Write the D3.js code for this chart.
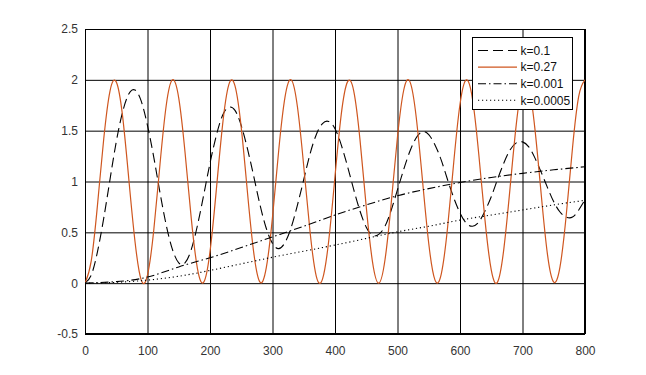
<!DOCTYPE html>
<html>
<head>
<meta charset="utf-8">
<script src="https://cdn.jsdelivr.net/npm/d3@7"></script>
<style>
  body { margin: 0; background: #fff; }
  text { font-family: "Liberation Sans", Arial, sans-serif; }
</style>
</head>
<body>
<div id="chart"></div>
<script>
// sample positions (x) for the fast series, every 10
var xFast = [0, 10, 20, 30, 40, 50, 60, 70, 80, 90,
  100, 110, 120, 130, 140, 150, 160, 170, 180, 190,
  200, 210, 220, 230, 240, 250, 260, 270, 280, 290,
  300, 310, 320, 330, 340, 350, 360, 370, 380, 390,
  400, 410, 420, 430, 440, 450, 460, 470, 480, 490,
  500, 510, 520, 530, 540, 550, 560, 570, 580, 590,
  600, 610, 620, 630, 640, 650, 660, 670, 680, 690,
  700, 710, 720, 730, 740, 750, 760, 770, 780, 790, 800];

// sample positions for the slow series, every 50
var xSlow = [0, 50, 100, 150, 200, 250, 300, 350, 400, 450, 500, 550, 600, 650, 700, 750, 800];

var k01 = [0, 0.08, 0.31, 0.64, 1.02, 1.39, 1.68, 1.86, 1.90, 1.79,
  1.55, 1.24, 0.89, 0.57, 0.33, 0.20, 0.20, 0.33, 0.57, 0.87,
  1.18, 1.45, 1.65, 1.73, 1.70, 1.55, 1.32, 1.05, 0.77, 0.54,
  0.39, 0.34, 0.40, 0.55, 0.77, 1.02, 1.27, 1.46, 1.57, 1.59,
  1.52, 1.36, 1.15, 0.92, 0.71, 0.55, 0.47, 0.48, 0.56, 0.72,
  0.92, 1.12, 1.30, 1.43, 1.49, 1.46, 1.36, 1.21, 1.02, 0.84,
  0.69, 0.59, 0.56, 0.60, 0.71, 0.85, 1.02, 1.18, 1.31, 1.38,
  1.39, 1.34, 1.23, 1.09, 0.94, 0.80, 0.70, 0.65, 0.65, 0.72, 0.82];

var k027 = [0, 0.22, 0.77, 1.42, 1.89, 1.98, 1.65, 1.03, 0.41, 0.03,
  0.08, 0.52, 1.17, 1.75, 2.00, 1.82, 1.29, 0.64, 0.14, 0.01,
  0.31, 0.91, 1.55, 1.95, 1.94, 1.53, 0.89, 0.30, 0.01, 0.15,
  0.65, 1.31, 1.83, 2.00, 1.73, 1.15, 0.51, 0.07, 0.04, 0.42,
  1.05, 1.66, 1.98, 1.89, 1.41, 0.75, 0.21, 0.00, 0.23, 0.79,
  1.44, 1.90, 1.98, 1.63, 1.01, 0.39, 0.03, 0.09, 0.54, 1.19,
  1.76, 2.00, 1.81, 1.27, 0.62, 0.13, 0.01, 0.33, 0.93, 1.56,
  1.95, 1.93, 1.51, 0.87, 0.28, 0.01, 0.16, 0.67, 1.33, 1.84, 2.00];

var k0001 = [0, 0.015, 0.06, 0.16, 0.25, 0.35, 0.455, 0.56, 0.67, 0.77, 0.86, 0.93, 0.99, 1.04, 1.08, 1.115, 1.145];

var k00005 = [0, 0.008, 0.03, 0.068, 0.125, 0.19, 0.255, 0.315, 0.375, 0.44, 0.505, 0.56, 0.62, 0.67, 0.72, 0.77, 0.815];

var legendLabels = ["k=0.1", "k=0.27", "k=0.001", "k=0.0005"];
var xTicks = [0, 100, 200, 300, 400, 500, 600, 700, 800];
var yTicks = [-0.5, 0, 0.5, 1, 1.5, 2, 2.5];

var width = 646,
height = 375;

var plotLeft = 85, plotRight = 585, plotTop = 29, plotBottom = 334;

var svg = d3.select("#chart")
.append("svg")
.attr("width", width)
.attr("height", height);

var xScale = d3.scaleLinear()
.domain([0, 800])
.range([plotLeft, plotRight]);

var yScale = d3.scaleLinear()
.domain([-0.5, 2.5])
.range([plotBottom, plotTop]);

//y grid + labels
var yAxis = d3.axisLeft(yScale)
.tickValues(yTicks)
.tickFormat(function(d) { return String(d); })
.tickSize(-(plotRight - plotLeft))
.tickPadding(7);

svg.append("g")
.attr("class", "y axis")
.attr("transform", "translate(" + plotLeft + ",0)")
.call(yAxis);

//x grid + labels
var xAxis = d3.axisBottom(xScale)
.tickValues(xTicks)
.tickFormat(function(d) { return String(d); })
.tickSize(-(plotBottom - plotTop))
.tickPadding(12);

svg.append("g")
.attr("class", "x axis")
.attr("transform", "translate(0," + plotBottom + ")")
.call(xAxis);

svg.selectAll(".axis .domain").remove();
svg.selectAll(".axis line")
.attr("stroke", "#000")
.attr("stroke-width", 1);
svg.selectAll(".axis text")
.attr("fill", "#333")
.style("font-size", "12px");

//plot frame
svg.append("rect")
.attr("x", plotLeft + 0.5)
.attr("y", plotTop + 0.5)
.attr("width", plotRight - plotLeft - 1)
.attr("height", plotBottom - plotTop - 1)
.attr("fill", "none")
.attr("stroke", "#000");

svg.append("clipPath")
.attr("id", "plotclip")
.append("rect")
.attr("x", plotLeft)
.attr("y", plotTop)
.attr("width", plotRight - plotLeft)
.attr("height", plotBottom - plotTop);

var line = d3.line()
.curve(d3.curveNatural)
.x(function(d) { return xScale(d[0]); })
.y(function(d) { return yScale(d[1]); });

function pairs(xs, ys) {
  return xs.map(function(x, i) { return [x, ys[i]]; });
}

var series = [
  { label: legendLabels[0], data: pairs(xFast, k01), color: "#000", dash: "10,5", w: 1.1 },
  { label: legendLabels[1], data: pairs(xFast, k027), color: "#cf561f", dash: null, w: 1.2 },
  { label: legendLabels[2], data: pairs(xSlow, k0001), color: "#000", dash: "8,3,1.5,3", w: 1.1 },
  { label: legendLabels[3], data: pairs(xSlow, k00005), color: "#000", dash: "1.2,2.8", w: 1.1 }
];

var plot = svg.append("g").attr("clip-path", "url(#plotclip)");

plot.selectAll("path.series")
.data(series)
.enter()
.append("path")
.attr("class", "series")
.attr("d", function(d) { return line(d.data); })
.attr("fill", "none")
.attr("stroke", function(d) { return d.color; })
.attr("stroke-width", function(d) { return d.w; })
.attr("stroke-dasharray", function(d) { return d.dash; });

//legend
var legend = svg.append("g")
.attr("transform", "translate(472.5,37.5)");

legend.append("rect")
.attr("width", 100)
.attr("height", 72)
.attr("fill", "#fff")
.attr("stroke", "#000");

var rows = legend.selectAll("g.row")
.data(series)
.enter()
.append("g")
.attr("class", "row")
.attr("transform", function(d, i) { return "translate(0," + (13 + i * 16.6) + ")"; });

rows.append("line")
.attr("x1", 5.5)
.attr("x2", 44.5)
.attr("stroke", function(d) { return d.color; })
.attr("stroke-width", function(d) { return d.w; })
.attr("stroke-dasharray", function(d) { return d.dash; });

rows.append("text")
.attr("x", 48)
.attr("dy", "0.35em")
.attr("fill", "#111")
.style("font-size", "12px")
.text(function(d) { return d.label; });
</script>
</body>
</html>
